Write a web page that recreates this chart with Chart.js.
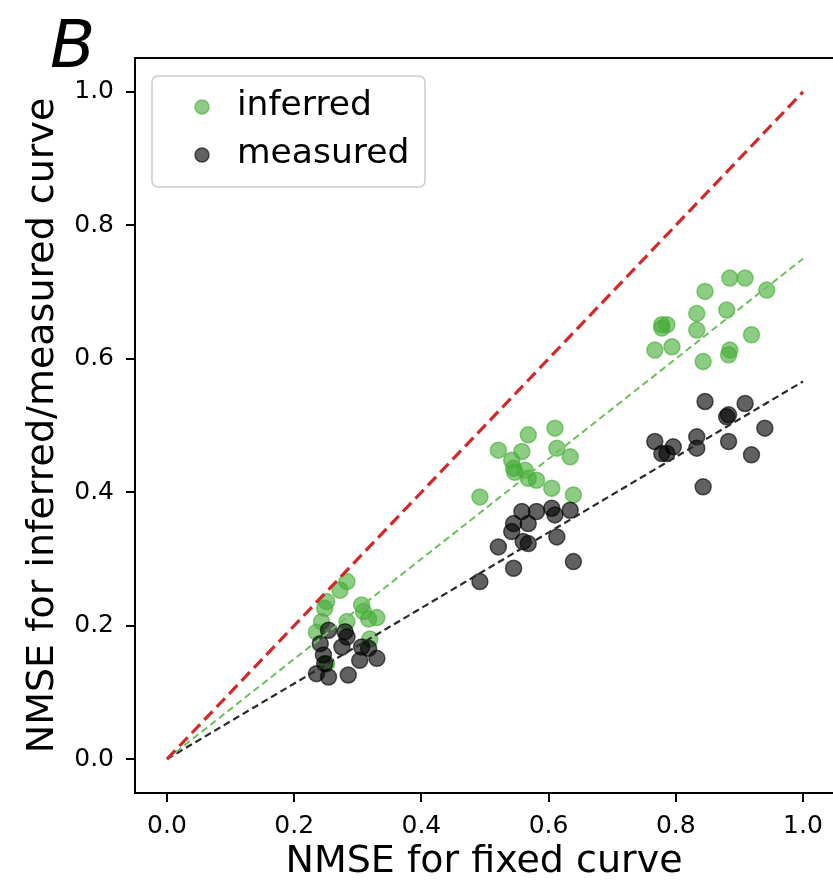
<!DOCTYPE html>
<html>
<head>
<meta charset="utf-8">
<script src="https://cdn.jsdelivr.net/npm/chart.js@4.4.1/dist/chart.umd.min.js"></script>
<style>
  body { margin: 0; background: #fff; }
  #graph_canvas { display: block; }
</style>
</head>
<body>
<canvas id="graph_canvas" width="833" height="887"></canvas>
<script>
const ctx = document.getElementById('graph_canvas');

// values
const inferredX = [0.283, 0.272, 0.251, 0.248, 0.306, 0.309, 0.330, 0.317, 0.283, 0.243, 0.235, 0.319, 0.251,
  0.610, 0.568, 0.521, 0.558, 0.613, 0.634, 0.542, 0.545, 0.547, 0.563, 0.568, 0.581, 0.605, 0.639, 0.492,
  0.885, 0.909, 0.846, 0.943, 0.833, 0.880, 0.778, 0.786, 0.778, 0.833, 0.919, 0.767, 0.794, 0.885, 0.883, 0.843];
const inferredY = [0.266, 0.253, 0.236, 0.226, 0.231, 0.221, 0.212, 0.210, 0.206, 0.206, 0.190, 0.180, 0.143,
  0.496, 0.486, 0.463, 0.461, 0.466, 0.453, 0.448, 0.436, 0.430, 0.433, 0.421, 0.418, 0.406, 0.396, 0.393,
  0.721, 0.721, 0.701, 0.703, 0.668, 0.673, 0.651, 0.651, 0.646, 0.643, 0.636, 0.613, 0.618, 0.613, 0.606, 0.596];

const measuredX = [0.254, 0.280, 0.283, 0.241, 0.275, 0.306, 0.317, 0.246, 0.303, 0.330, 0.248, 0.235, 0.254, 0.285,
  0.558, 0.581, 0.605, 0.610, 0.634, 0.545, 0.568, 0.542, 0.521, 0.560, 0.568, 0.613, 0.545, 0.639, 0.492,
  0.846, 0.909, 0.883, 0.880, 0.940, 0.767, 0.796, 0.833, 0.833, 0.883, 0.778, 0.786, 0.919, 0.843];
const measuredY = [0.193, 0.191, 0.183, 0.173, 0.168, 0.168, 0.166, 0.156, 0.148, 0.151, 0.143, 0.128, 0.123, 0.126,
  0.371, 0.371, 0.376, 0.366, 0.373, 0.353, 0.353, 0.341, 0.318, 0.326, 0.323, 0.333, 0.286, 0.296, 0.266,
  0.536, 0.533, 0.516, 0.513, 0.496, 0.476, 0.468, 0.483, 0.466, 0.476, 0.458, 0.458, 0.456, 0.408];

// dashed lines through the origin: identity, inferred fit, measured fit
const lineX = [0, 1];
const identitySlope = 1.0;
const inferredSlope = 0.75;
const measuredSlope = 0.566;

const xTicks = [0.0, 0.2, 0.4, 0.6, 0.8, 1.0];
const yTicks = [0.0, 0.2, 0.4, 0.6, 0.8, 1.0];

const seriesNames = ['inferred', 'measured'];
const panelLetter = 'B';
const xTitle = 'NMSE for fixed curve';
const yTitle = 'NMSE for inferred/measured curve';

const greenFill = 'rgba(70, 172, 55, 0.62)';
const blackFill = 'rgba(0, 0, 0, 0.62)';

function pts(xs, ys) {
  return xs.map((x, i) => ({x: x, y: ys[i]}));
}
function fitLine(slope) {
  return lineX.map(x => ({x: x, y: slope * x}));
}

const font = 'DejaVu Sans';

// frame (right side falls off the canvas), legend and panel letter
const extras = {
  id: 'extras',
  afterDraw(chart) {
    const c = chart.ctx;
    const a = chart.chartArea;
    c.save();
    c.strokeStyle = '#000';
    c.lineWidth = 2;
    c.beginPath();
    c.moveTo(a.right + 2, a.top);
    c.lineTo(a.left, a.top);
    c.lineTo(a.left, a.bottom);
    c.lineTo(a.right + 2, a.bottom);
    c.stroke();

    // legend
    c.beginPath();
    c.roundRect(152, 76, 273, 111, 6);
    c.fillStyle = 'rgba(255,255,255,0.8)';
    c.fill();
    c.strokeStyle = 'rgba(0,0,0,0.2)';
    c.lineWidth = 1.5;
    c.stroke();
    const fills = [greenFill, blackFill];
    const rows = [107, 155];
    for (let i = 0; i < 2; i++) {
      c.beginPath();
      c.arc(202, rows[i], 7, 0, Math.PI * 2);
      c.fillStyle = fills[i];
      c.fill();
      c.strokeStyle = fills[i];
      c.lineWidth = 1.5;
      c.stroke();
      c.fillStyle = '#000';
      c.font = '34.5px "' + font + '"';
      c.textBaseline = 'middle';
      c.fillText(seriesNames[i], 237, rows[i] - 1);
    }

    c.font = 'italic 66px "' + font + '"';
    c.textBaseline = 'alphabetic';
    c.fillStyle = '#000';
    c.fillText(panelLetter, 50, 67);
    c.restore();
  }
};

const data = {
  datasets: [
    {
      type: 'line', label: 'identity', data: fitLine(identitySlope), order: 1,
      borderColor: '#d62728', borderWidth: 3.2, borderDash: [12, 6], pointRadius: 0, fill: false
    },
    {
      type: 'line', label: 'inferred fit', data: fitLine(inferredSlope), order: 1,
      borderColor: '#6cc05c', borderWidth: 2, borderDash: [7, 4], pointRadius: 0, fill: false
    },
    {
      type: 'line', label: 'measured fit', data: fitLine(measuredSlope), order: 1,
      borderColor: '#2a2a2a', borderWidth: 2.2, borderDash: [7, 4], pointRadius: 0, fill: false
    },
    {
      // measured is plotted after inferred, so it sits on top
      label: seriesNames[0], data: pts(inferredX, inferredY), order: 3,
      backgroundColor: greenFill, borderColor: greenFill, borderWidth: 1.5, pointRadius: 8
    },
    {
      label: seriesNames[1], data: pts(measuredX, measuredY), order: 2,
      backgroundColor: blackFill, borderColor: blackFill, borderWidth: 1.5, pointRadius: 8
    }
  ]
};

const config = {
  type: 'scatter',
  data: data,
  plugins: [extras],
  options: {
    responsive: false,
    animation: false,
    devicePixelRatio: 1,
    layout: { padding: { top: 58, left: 0, right: 0, bottom: 0 }, autoPadding: false },
    plugins: { legend: { display: false }, tooltip: { enabled: false } },
    scales: {
      x: {
        type: 'linear',
        min: -0.0503,
        max: 1.0472,
        afterFit: s => { s.height = 94; },
        afterBuildTicks: s => { s.ticks = xTicks.map(v => ({value: v})); },
        grid: { drawOnChartArea: false, drawTicks: true, tickLength: 9, color: '#000', lineWidth: 2 },
        border: { display: false },
        ticks: {
          padding: 9, color: '#000', maxRotation: 0,
          font: { family: font, size: 25 },
          callback: v => v.toFixed(1)
        },
        title: {
          display: true, text: xTitle, color: '#000',
          font: { family: font, size: 38, lineHeight: 1.2 },
          padding: { top: 0, bottom: 2 }
        }
      },
      y: {
        type: 'linear',
        min: -0.0509,
        max: 1.0509,
        afterFit: s => { s.width = 135; },
        afterBuildTicks: s => { s.ticks = yTicks.map(v => ({value: v})); },
        grid: { drawOnChartArea: false, drawTicks: true, tickLength: 9, color: '#000', lineWidth: 2 },
        border: { display: false },
        ticks: {
          padding: 12, color: '#000',
          font: { family: font, size: 25 },
          callback: v => v.toFixed(1)
        },
        title: {
          display: true, text: yTitle, color: '#000',
          font: { family: font, size: 38, lineHeight: 1.2 },
          padding: { top: 20, bottom: 0 }
        }
      }
    }
  }
};

var myChart = new Chart(ctx, config);
</script>
</body>
</html>
